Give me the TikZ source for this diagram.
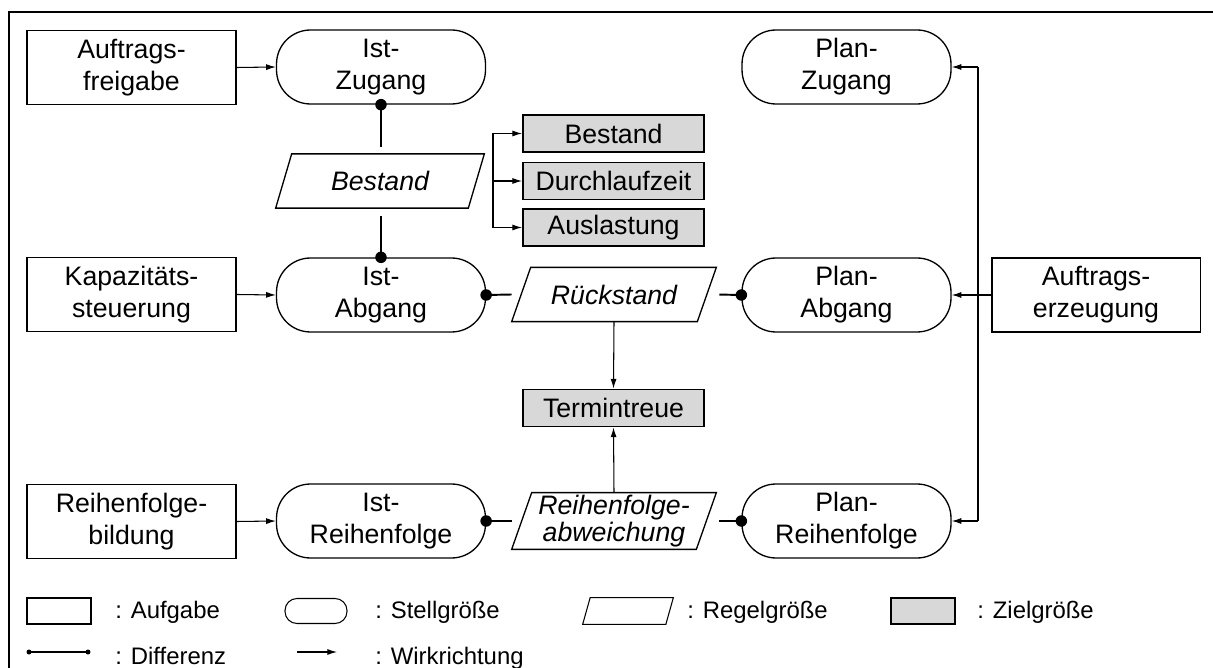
\documentclass[tikz,border=0pt]{standalone}
\usepackage{fontspec}
\setmainfont{Liberation Sans}
\usetikzlibrary{arrows.meta,calc}
\definecolor{zgray}{RGB}{216,216,216}

% slanted outline (parallelogram) around a node's bounding box
\newcommand\drawpgram[3][0.75pt]{%
  \draw[line width=#1] ($(#2.north west)+(#3,0)$) -- (#2.north east)
    -- ($(#2.south east)-(#3,0)$) -- (#2.south west) -- cycle;}

\begin{document}
\begin{tikzpicture}[x=0.02cm,y=-0.02cm,
  font=\fontsize{15.2}{18.2}\selectfont,
  task/.style={draw, line width=1.1pt, minimum width=4.18cm, minimum height=1.48cm, align=center, inner sep=0pt},
  var/.style={draw, line width=0.75pt, rounded corners=0.68cm, minimum width=4.18cm, minimum height=1.48cm, align=center, inner sep=0pt},
  ctrl/.style={minimum width=4.08cm, minimum height=1.07cm, align=center, inner sep=0pt,
    font=\fontsize{15.2}{18.2}\selectfont\itshape},
  goal/.style={draw, line width=1.1pt, fill=zgray, minimum width=3.62cm, minimum height=0.74cm, inner sep=0pt},
  arr/.style={line width=0.6pt, -{Latex[length=5.5pt,width=3.4pt]}},
  diff/.style={line width=1.1pt},
  dot/.style={fill=black},
  legtext/.style={font=\fontsize{13.6}{16}\selectfont, inner sep=0pt, anchor=base west},
]
\useasboundingbox (0,0) rectangle (1213,668);

% outer frame (open to the right and bottom)
\draw[line width=1.4pt] (9,668) -- (9,12) -- (1213,12);

% tasks (Aufgaben)
\node[task] (af) at (131.5,67.5) {Auftrags-\\freigabe};
\node[task] (ks) at (131.5,294.5) {Kapazitäts-\\steuerung};
\node[task] (rb) at (131.5,521.5) {Reihenfolge-\\bildung};
\node[task] (ae) at (1096,295) {Auftrags-\\erzeugung};

% manipulated variables (Stellgrößen)
\node[var] (iz) at (381,67) {Ist-\\Zugang};
\node[var] (ia) at (381,295) {Ist-\\Abgang};
\node[var] (ir) at (381,521) {Ist-\\Reihenfolge};
\node[var] (pz) at (846.5,67) {Plan-\\Zugang};
\node[var] (pa) at (846.5,295) {Plan-\\Abgang};
\node[var] (pr) at (846.5,521) {Plan-\\Reihenfolge};

% controlled variables (Regelgrößen)
\node[ctrl, minimum width=4.16cm] (bst) at (380,181) {Bestand};
\node[ctrl] (rs) at (614,294.5) {Rückstand};
\node[ctrl, minimum height=1.12cm, font=\fontsize{15.2}{12.6}\selectfont\itshape] (ra) at (614,521)
  {Reihenfolge-\\abweichung};
\drawpgram{bst}{0.32cm}
\drawpgram{rs}{0.38cm}
\drawpgram{ra}{0.4cm}

% target values (Zielgrößen)
\node[goal] (zb) at (613.5,133.5) {Bestand};
\node[goal] (zd) at (613.5,181) {Durchlaufzeit};
\node[goal] (za) at (613.5,227.5) {Auslastung};
\node[goal] (tt) at (613.5,408) {Termintreue};

% task -> variable
\draw[arr] (af.east) -- (iz.west);
\draw[arr] (ks.east) -- (ia.west);
\draw[arr] (rb.east) -- (ir.west);

% order generation feeds all plan values
\coordinate (bus) at (978,295);
\draw[line width=0.6pt] (ae.west) -- (bus);
\draw[line width=0.9pt] (bus |- pz.east) -- (bus |- pr.east);
\draw[arr] (bus |- pz.east) -- (pz.east);
\draw[arr] (bus) -- (pa.east);
\draw[arr] (bus |- pr.east) -- (pr.east);

% differences
\draw[diff, shorten >=0.14cm] (iz.south) -- (iz.south |- bst.north);
\draw[diff, shorten >=0.16cm] (ia.north) -- (ia.north |- bst.south);
\draw[diff] (ia.east) -- (rs.west);
\draw[diff, shorten >=0.06cm] (pa.west) -- (rs.east);
\draw[diff] (ir.east) -- (ra.west);
\draw[diff, shorten >=0.06cm] (pr.west) -- (ra.east);
\foreach \p in {iz.south, ia.north, ia.east, pa.west, ir.east, pr.west}
  \fill[dot] (\p) circle[radius=0.115cm];

% stock -> targets
\coordinate (br) at (493,181);
\draw[line width=0.6pt, shorten <=0.16cm] (bst.east) -- (br);
\draw[arr] (br) |- (zb.west);
\draw[arr] (br) -- (zd.west);
\draw[arr] (br) |- (za.west);

% delivery reliability
\draw[arr] (rs.south) -- (tt.north);
\draw[arr] (ra.north) -- (tt.south);

% legend
\node[draw, line width=0.6pt, minimum width=1.28cm, minimum height=0.52cm, inner sep=0pt] (lgA) at (59,611) {};
\node[legtext] (ltA) at (115,618) {: Aufgabe};
\node[draw, line width=0.6pt, rounded corners=0.24cm, minimum width=1.24cm, minimum height=0.5cm, inner sep=0pt] (lgS) at (316,611) {};
\node[legtext] (ltS) at (375,618) {: Stellgröße};
\node[minimum width=1.8cm, minimum height=0.52cm, inner sep=0pt] (lgR) at (628,611) {};
\drawpgram[0.6pt]{lgR}{0.15cm}
\node[legtext] (ltR) at (687,618) {: Regelgröße};
\node[draw, line width=0.6pt, fill=zgray, minimum width=1.28cm, minimum height=0.52cm, inner sep=0pt] (lgZ) at (923,611) {};
\node[legtext] (ltZ) at (977,618) {: Zielgröße};

\coordinate (d1) at (29,652);
\coordinate (d2) at (88,652);
\draw[line width=0.6pt] (d1) -- (d2);
\fill (d1) circle[radius=0.05cm];
\fill (d2) circle[radius=0.05cm];
\node[legtext] (ltD) at (115,664) {: Differenz};
\coordinate (w1) at (297,652);
\coordinate (w2) at (337,652);
\draw[arr] (w1) -- (w2);
\node[legtext] (ltW) at (375,664) {: Wirkrichtung};
\end{tikzpicture}
\end{document}
